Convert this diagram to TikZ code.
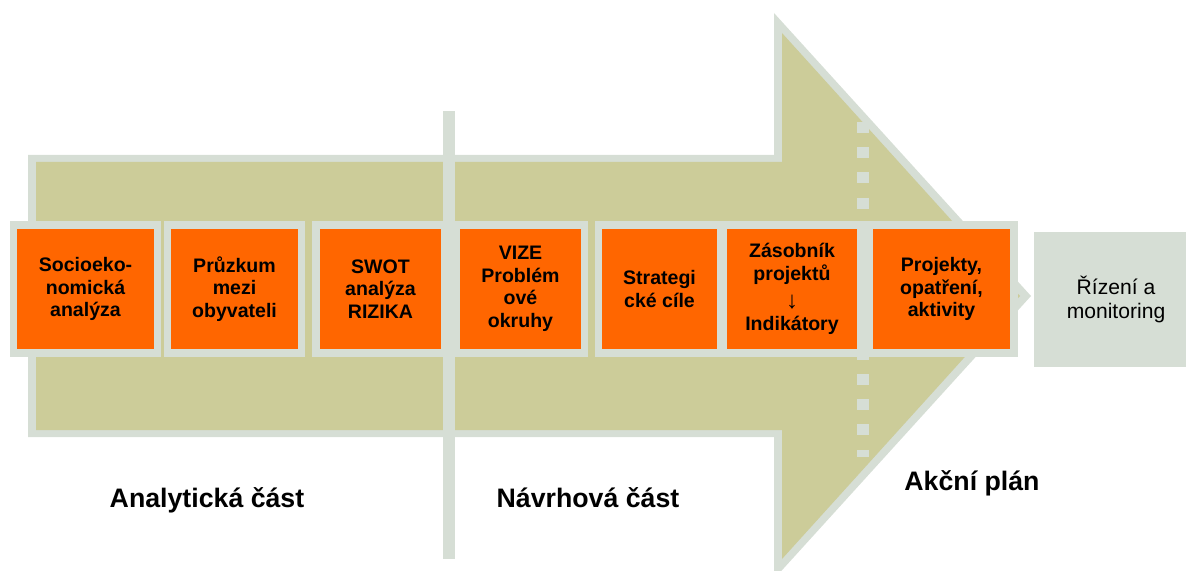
\documentclass[tikz,border=0pt]{standalone}
\usepackage{fontspec}
\setmainfont{Liberation Sans}
\definecolor{khaki}{RGB}{204,204,153}
\definecolor{svetla}{RGB}{214,222,213}
\definecolor{oranzova}{RGB}{255,102,0}
\begin{document}
\begin{tikzpicture}[
        x=0.025cm, y=-0.025cm,
        krok/.style={fill=oranzova, minimum height=3cm, inner sep=0pt, align=center,
            font=\bfseries\fontsize{13.9}{16}\selectfont},
        ramecek/.style={fill=svetla},
        cast/.style={font=\bfseries\fontsize{19}{23}\selectfont},
    ]
        \useasboundingbox (0,0) rectangle (1186,571);
        \clip (0,0) rectangle (1186,571);

        % Big arrow: outline, then fill
        \fill[svetla] (28,155) -- (774,155) -- (774,13) -- (1031,296) -- (774,579)
            -- (774,437) -- (28,437) -- cycle;
        \fill[khaki] (36,162) -- (782,162) -- (782,33) -- (1020,296) -- (782,559)
            -- (782,430) -- (36,430) -- cycle;

        % Divider between the parts
        \fill[svetla] (443,111) rectangle (455,559);

        % Dashed line before the action plan
        \draw[svetla, line width=0.3cm, dash pattern=on 0.275cm off 0.355cm] (863,122) -- (863,457);

        % Frames of the box row
        \fill[ramecek] (10,221) rectangle (161,357);
        \fill[ramecek] (164,221) rectangle (305,357);
        \fill[ramecek] (312,221) rectangle (588,357);
        \fill[ramecek] (595,221) rectangle (1018,357);

        % Define Step Nodes
        \node[krok, minimum width=3.425cm] (socio) at (85.5,289) {Socioeko-\\nomická\\analýza};
        \node[krok, minimum width=3.175cm] (pruzkum) at (234.5,289) {Průzkum\\mezi\\obyvateli};
        \node[krok, minimum width=3.025cm] (swot) at (380.5,289) {SWOT\\analýza\\RIZIKA};
        \node[krok, minimum width=3.025cm] (vize) at (520.5,289) {VIZE\\Problém\\ové\\okruhy};
        \node[krok, minimum width=2.875cm] (cile) at (659.5,289) {Strategi\\cké cíle};
        \node[krok, minimum width=3.25cm] (zasobnik) at (792,289)
            {Zásobník\\projektů\\[4pt]{\mdseries\fontsize{17}{16}\selectfont ↓}\\Indikátory};
        \node[krok, minimum width=3.425cm] (projekty) at (941.5,289) {Projekty,\\opatření,\\aktivity};

        % Management box outside the arrow
        \node[fill=svetla, minimum width=4.1cm, minimum height=3.375cm, align=center,
            font=\fontsize{15}{17}\selectfont] (rizeni) at (1116,299.5) {Řízení a\\monitoring};

        % Part labels
        \node[cast] (analyticka) at (207,500) {Analytická část};
        \node[cast] (navrhova) at (588,498) {Návrhová část};
        \node[cast] (akcni) at (972,483) {Akční plán};
    \end{tikzpicture}
\end{document}
